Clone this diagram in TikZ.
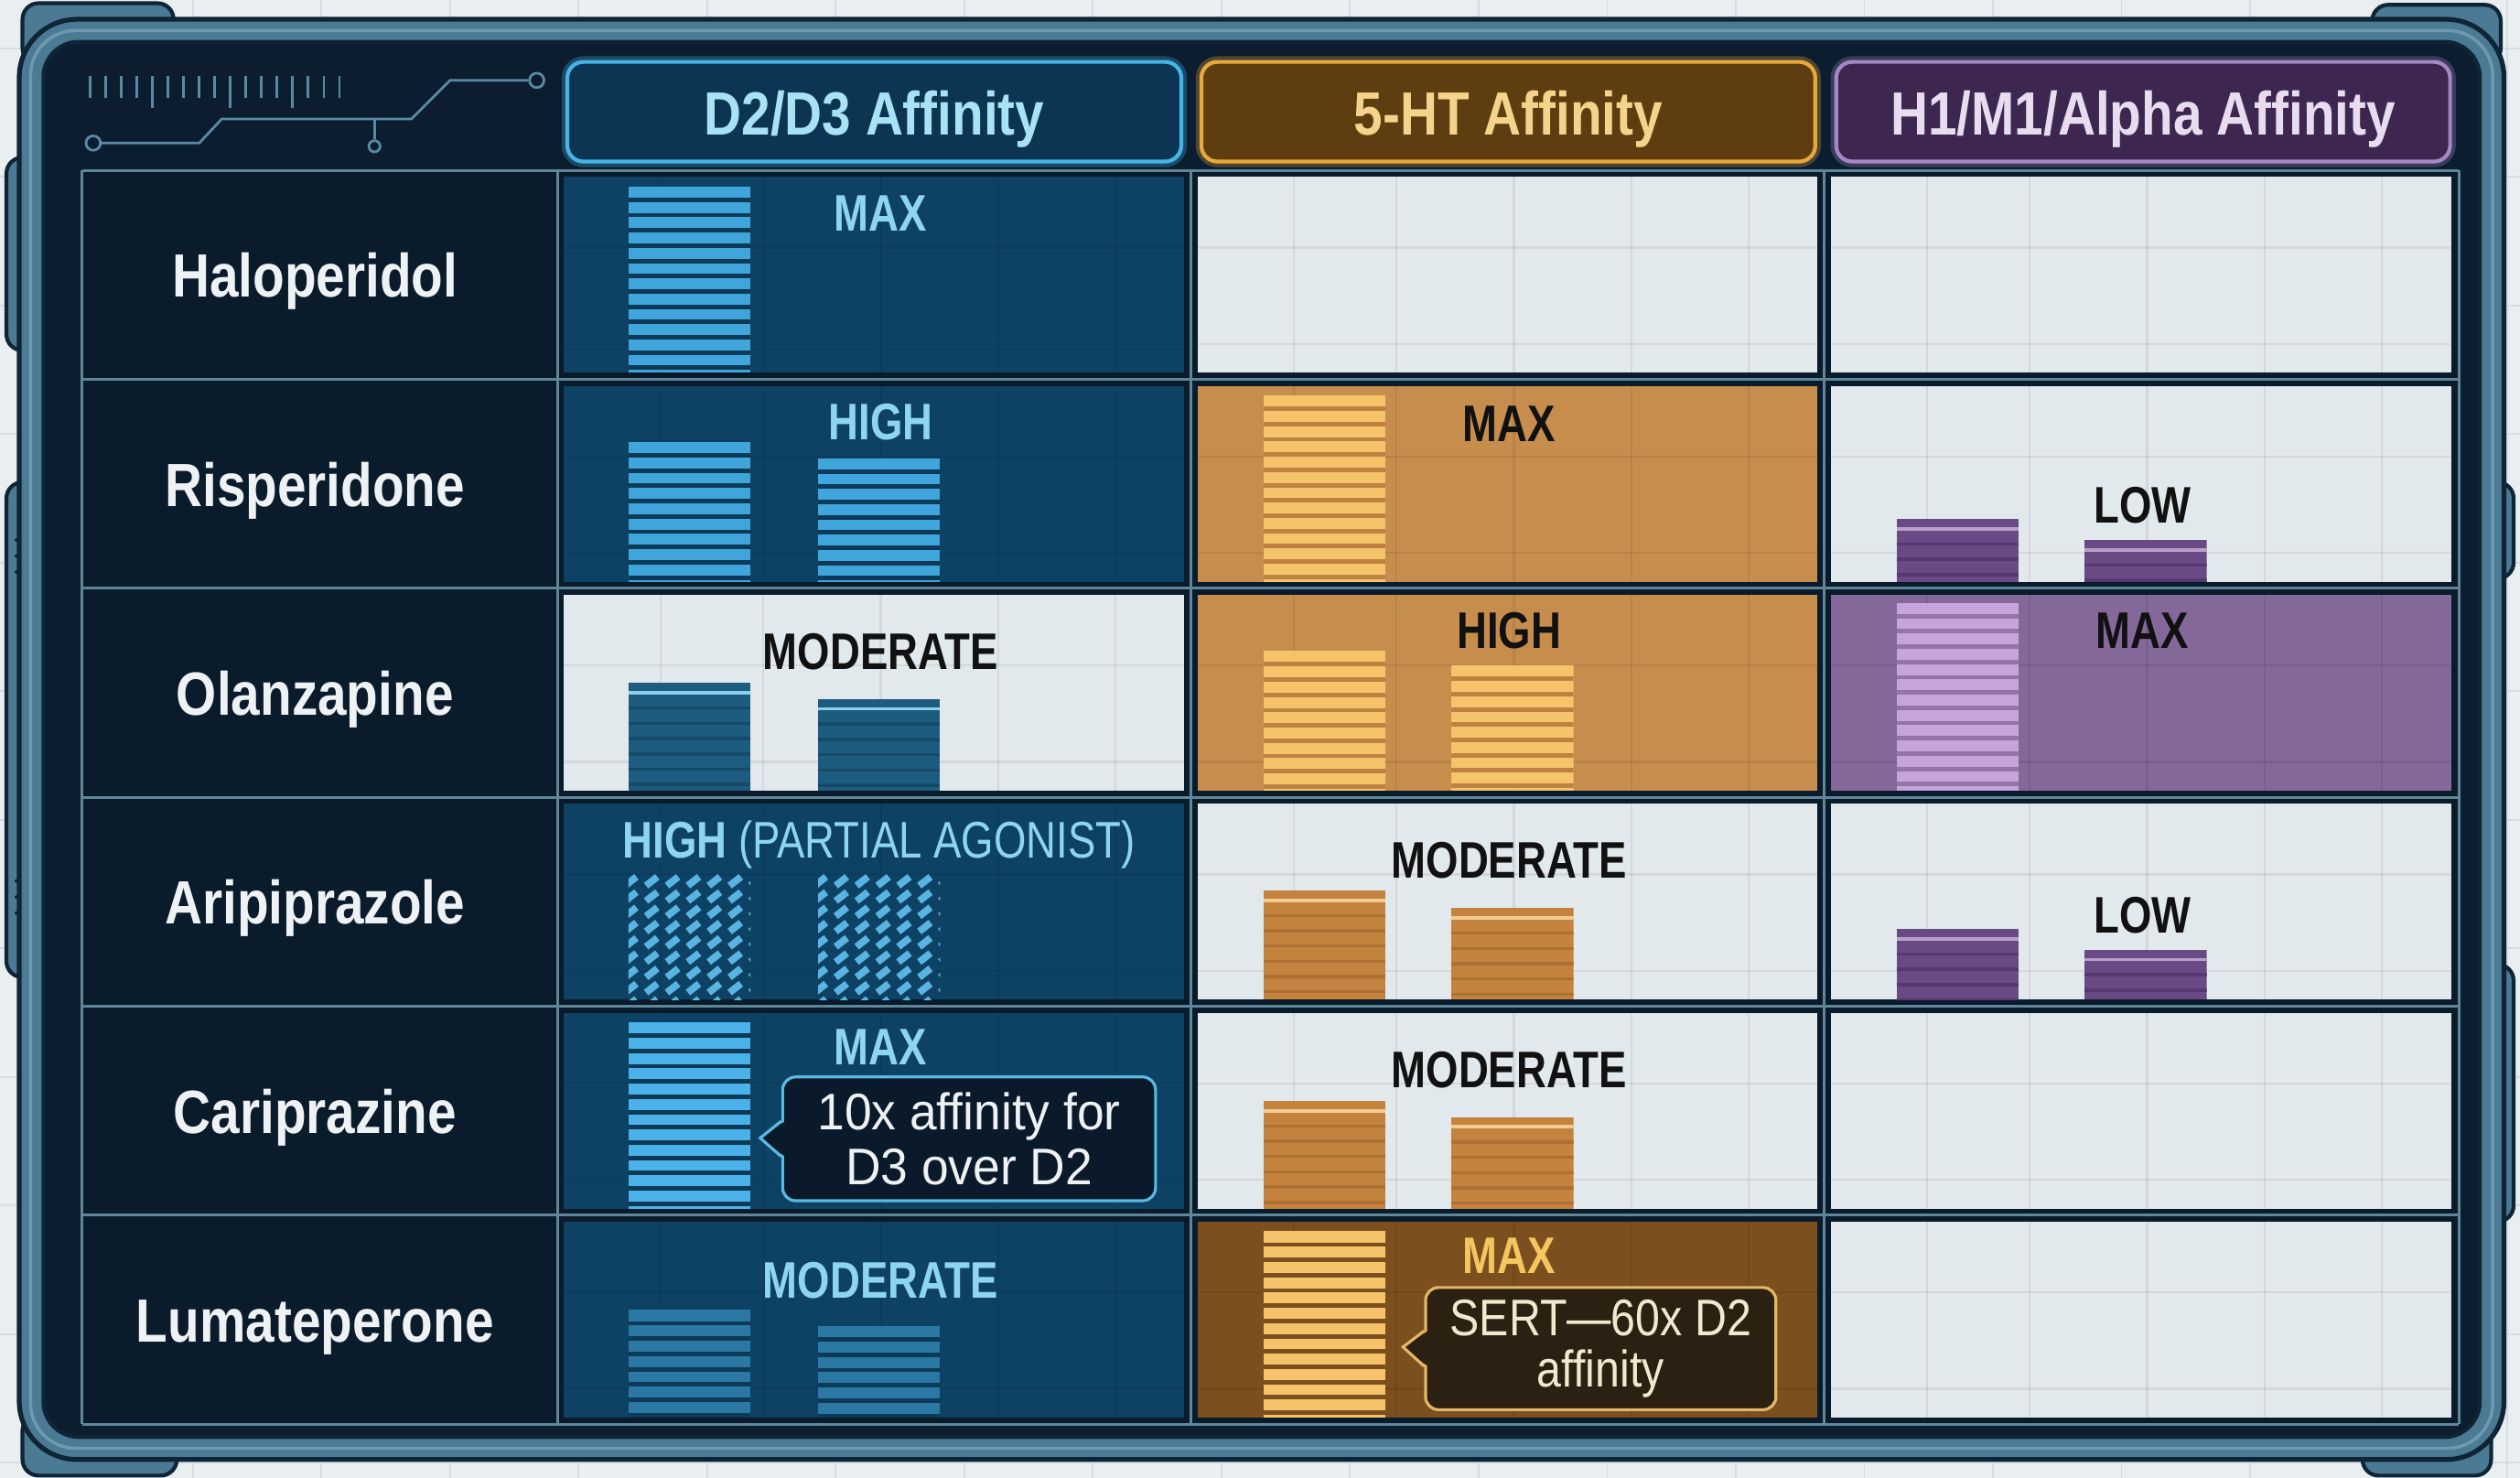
\documentclass[tikz,border=0pt]{standalone}
\usepackage{fontspec}
\setmainfont{Liberation Sans}
\newfontfamily\cnd{Liberation Sans}[FakeStretch=0.85]
\newfontfamily\cndl{Liberation Sans}[FakeStretch=0.81]
\newfontfamily\cndr{Liberation Sans}[FakeStretch=0.95]
\newfontfamily\cnds{Liberation Sans}[FakeStretch=0.86]
\definecolor{bgpage}{HTML}{E9EEF1}
\definecolor{bggrid}{HTML}{D5DDE2}
\definecolor{frameteal}{HTML}{4A7A94}
\definecolor{framelight}{HTML}{6E9AB1}
\definecolor{frameout}{HTML}{0F2536}
\definecolor{panel}{HTML}{0B1D2E}
\definecolor{gridline}{HTML}{5F8699}
\definecolor{namecell}{HTML}{0A1B2B}
\definecolor{namewhite}{HTML}{EEF2F4}
\definecolor{deco}{HTML}{5A8AA3}
\definecolor{dblue}{HTML}{0E4264}
\definecolor{dbar}{HTML}{40A5DB}
\definecolor{dbarbright}{HTML}{4AB2E8}
\definecolor{dbargap}{HTML}{0D3A58}
\definecolor{dbardim}{HTML}{2A78A3}
\definecolor{dlabel}{HTML}{8ED5F1}
\definecolor{dsolid}{HTML}{1D5C7F}
\definecolor{dsolidgap}{HTML}{154B69}
\definecolor{dhi}{HTML}{8CD0EE}
\definecolor{dhatch}{HTML}{5AB4E2}
\definecolor{amber}{HTML}{C78D4D}
\definecolor{amberdark}{HTML}{7C4F1E}
\definecolor{abar}{HTML}{F4C36A}
\definecolor{abargap}{HTML}{BD8242}
\definecolor{aorange}{HTML}{C3823E}
\definecolor{aorangegap}{HTML}{AD7033}
\definecolor{ahi}{HTML}{F3CB94}
\definecolor{alabel}{HTML}{F4C660}
\definecolor{purp}{HTML}{85689A}
\definecolor{pbar}{HTML}{C8A4DD}
\definecolor{pbargap}{HTML}{9574AA}
\definecolor{psolid}{HTML}{6A4A85}
\definecolor{psolidgap}{HTML}{553870}
\definecolor{phi}{HTML}{B9A0CB}
\definecolor{wcell}{HTML}{E2E9ED}
\definecolor{hd}{HTML}{0B3552}
\definecolor{hdb}{HTML}{45B4E6}
\definecolor{hdt}{HTML}{A9E2F4}
\definecolor{ha}{HTML}{5E3D10}
\definecolor{hab}{HTML}{E9A83A}
\definecolor{hat}{HTML}{F5D38A}
\definecolor{hp}{HTML}{3D2751}
\definecolor{hpb}{HTML}{A587C4}
\definecolor{hpt}{HTML}{E8DCEF}
\definecolor{cbfill}{HTML}{0A1A2A}
\definecolor{cbborder}{HTML}{5BB9E2}
\definecolor{cafill}{HTML}{2C2013}
\definecolor{caborder}{HTML}{E2B767}
\definecolor{catext}{HTML}{F3E8CF}
\definecolor{lblack}{HTML}{111111}

% striped bar: x, top, bottom, fill, gap
\newcommand\mybar[5]{%
 \begin{scope}
 \clip (#1,#2) rectangle (#1+76,#3);
 \fill[#4] (#1,#2) rectangle (#1+76,#3);
 \foreach \k in {1,...,14}{\draw[#5,line width=1.4pt] (#1,#2+\k*9.5-1.2) -- (#1+76,#2+\k*9.5-1.2);}
 \end{scope}}
% solid bar with cap highlight: x, top, bottom, fill, gap, highlight
\newcommand\mysolid[6]{%
 \begin{scope}
 \clip (#1,#2) rectangle (#1+76,#3);
 \fill[#4] (#1,#2) rectangle (#1+76,#3);
 \foreach \k in {1,...,12}{\draw[#5,line width=1pt] (#1,#2+6+\k*9.5) -- (#1+76,#2+6+\k*9.5);}
 \draw[#6,line width=1.1pt] (#1,#2+6) -- (#1+76,#2+6);
 \end{scope}}
% hatched bar: x, top, bottom
\newcommand\myhatch[3]{%
 \begin{scope}
 \clip (#1,#2) rectangle (#1+76,#3);
 \foreach \r in {0,...,8}{\foreach \c in {0,...,6}{%
   \draw[dhatch,line width=2.2pt] (#1+\c*13-2,#2+\r*9.5+7) -- (#1+\c*13+5,#2+\r*9.5+1.5);}}
 \end{scope}}
% cell background: col-left, row-top, fill
\newcommand\mycell[3]{%
 \fill[#3] (#1+4,#2+4) rectangle (#1+390,#2+126);
 \begin{scope}
 \clip (#1+4,#2+4) rectangle (#1+390,#2+126);
 \foreach \v in {64,128,201,274,347}{\draw[black,opacity=0.07,line width=0.6pt] (#1+\v,#2) -- (#1+\v,#2+130);}
 \foreach \h in {48,108}{\draw[black,opacity=0.07,line width=0.6pt] (#1,#2+\h) -- (#1+394,#2+\h);}
 \end{scope}}

\begin{document}
\begin{tikzpicture}[x=0.5pt,y=-0.5pt,
  bump/.style={fill=frameteal,draw=frameout,line width=1.2pt,rounded corners=5pt},
  namelbl/.style={font=\cnd\bfseries\fontsize{19}{22}\selectfont,text=namewhite,anchor=base},
  hdr/.style={rounded corners=5pt,line width=1.2pt,minimum width=191pt,minimum height=31pt,inner sep=0pt},
  hdrtxt/.style={font=\cnd\bfseries\fontsize{19}{22}\selectfont,anchor=base},
  lbl/.style={font=\cndl\bfseries\fontsize{16}{19}\selectfont,anchor=base,inner sep=1pt},
  callbox/.style={align=center,rounded corners=4pt,line width=0.9pt,inner sep=0pt},
  decoline/.style={draw=deco,line width=0.8pt},
  dot/.style={circle,draw=deco,line width=0.8pt,fill=panel,minimum size=4.5pt,inner sep=0pt}]
\useasboundingbox (0,0) rectangle (1568,919.5);
% page background
\fill[bgpage] (0,0) rectangle (1568,919.5);
\foreach \gx in {40,120,...,1560}{\draw[bggrid,line width=0.5pt] (\gx,0) -- (\gx,919.5);}
\foreach \gy in {30,110,...,919}{\draw[bggrid,line width=0.5pt] (0,\gy) -- (1568,\gy);}

% frame bumps
\draw[bump] (14,2) rectangle (108,40);
\draw[bump] (1476,3) rectangle (1556,40);
\draw[bump] (4,98) rectangle (30,218);
\draw[bump] (4,300) rectangle (30,608);
\draw[bump] (14,880) rectangle (110,918);
\draw[bump] (1538,300) rectangle (1564,360);
\draw[bump] (1538,600) rectangle (1564,760);
\draw[bump] (1470,880) rectangle (1550,918);
\foreach \sy in {336,346,356,548,558,568}{\fill[frameout] (13,\sy) ellipse [x radius=4, y radius=1.6];}
\fill[green!60!yellow] (13,366) circle [radius=1.5];

% frame
\draw[fill=frameteal,draw=frameout,line width=1.5pt,rounded corners=18pt] (12,12) rectangle (1558,908);
\draw[framelight,line width=1pt,rounded corners=14pt] (19,19) rectangle (1551,901);
\draw[fill=panel,draw=frameout,line width=1.2pt,rounded corners=11pt] (27,26) rectangle (1543,894);

% decorative ruler
\foreach \i in {0,...,16}{\draw[decoline] (56+\i*9.7,47) -- (56+\i*9.7,61);}
\foreach \i in {4,9,13}{\draw[decoline] (56+\i*9.7,61) -- (56+\i*9.7,67);}
% circuit
\node[dot] (ca) at (58,89) {};
\node[dot] (cb) at (334,50) {};
\node[dot,minimum size=3.5pt] (cc) at (233,91) {};
\coordinate (cj) at (233,74);
\draw[decoline] (ca) -- (124,89) -- (138,74) -- (cj) -- (256,74) -- (280,50) -- (cb);
\draw[decoline] (cj) -- (cc);

% headers
\node[hdr,fill=hd,draw=hdb,preaction={draw=hdb,line width=3.5pt,opacity=0.3}] (hD) at (544,69.5) {};
\node[hdrtxt,text=hdt] (tD) at (544,84) {D2/D3 Affinity};
\node[hdr,fill=ha,draw=hab,preaction={draw=hab,line width=3.5pt,opacity=0.3}] (hA) at (938.5,69.5) {};
\node[hdrtxt,text=hat] (tA) at (938.5,84) {5-HT Affinity};
\node[hdr,fill=hp,draw=hpb,preaction={draw=hpb,line width=3.5pt,opacity=0.3}] (hP) at (1333.5,69.5) {};
\node[hdrtxt,text=hpt] (tP) at (1333.5,84) {H1/M1/Alpha Affinity};

% table background
\fill[namecell] (51,106) rectangle (1530,886);
% cells
\mycell{347}{106}{dblue}\mycell{741}{106}{wcell}\mycell{1135}{106}{wcell}
\mycell{347}{236}{dblue}\mycell{741}{236}{amber}\mycell{1135}{236}{wcell}
\mycell{347}{366}{wcell}\mycell{741}{366}{amber}\mycell{1135}{366}{purp}
\mycell{347}{496}{dblue}\mycell{741}{496}{wcell}\mycell{1135}{496}{wcell}
\mycell{347}{626}{dblue}\mycell{741}{626}{wcell}\mycell{1135}{626}{wcell}
\mycell{347}{756}{dblue}\mycell{741}{756}{amberdark}\mycell{1135}{756}{wcell}
% grid lines
\foreach \gx in {51,347,741,1135,1530}{\draw[gridline,line width=0.9pt] (\gx,106) -- (\gx,886);}
\foreach \gy in {106,236,366,496,626,756,886}{\draw[gridline,line width=0.9pt] (51,\gy) -- (1530,\gy);}

% names
\node[namelbl] (n1) at (196,185) {Haloperidol};
\node[namelbl] (n2) at (196,315) {Risperidone};
\node[namelbl] (n3) at (196,445) {Olanzapine};
\node[namelbl] (n4) at (196,575) {Aripiprazole};
\node[namelbl] (n5) at (196,705) {Cariprazine};
\node[namelbl] (n6) at (196,835) {Lumateperone};

% bars row 1
\mybar{391}{116}{232}{dbar}{dbargap}
% row 2
\mybar{391}{275}{362}{dbar}{dbargap}
\mybar{509}{285}{362}{dbar}{dbargap}
\mybar{786}{246}{362}{abar}{abargap}
\mysolid{1180}{323}{362}{psolid}{psolidgap}{phi}
\mysolid{1297}{336}{362}{psolid}{psolidgap}{phi}
% row 3
\mysolid{391}{425}{492}{dsolid}{dsolidgap}{dhi}
\mysolid{509}{435}{492}{dsolid}{dsolidgap}{dhi}
\mybar{786}{405}{492}{abar}{abargap}
\mybar{903}{414}{492}{abar}{abargap}
\mybar{1180}{375}{492}{pbar}{pbargap}
% row 4
\myhatch{391}{544}{622}
\myhatch{509}{544}{622}
\mysolid{786}{554}{622}{aorange}{aorangegap}{ahi}
\mysolid{903}{565}{622}{aorange}{aorangegap}{ahi}
\mysolid{1180}{578}{622}{psolid}{psolidgap}{phi}
\mysolid{1297}{591}{622}{psolid}{psolidgap}{phi}
% row 5
\mybar{391}{636}{752}{dbarbright}{dbargap}
\mysolid{786}{685}{752}{aorange}{aorangegap}{ahi}
\mysolid{903}{695}{752}{aorange}{aorangegap}{ahi}
% row 6
\mybar{391}{815}{882}{dbardim}{dbargap}
\mybar{509}{825}{882}{dbardim}{dbargap}
\mybar{786}{766}{882}{abar}{amberdark}

% labels
\node[lbl,text=dlabel] (l11) at (548,143.5) {MAX};
\node[lbl,text=dlabel] (l21) at (548,273.5) {HIGH};
\node[lbl,text=lblack] (l31) at (548,416.5) {MODERATE};
\node[lbl,text=dlabel] (l41) at (547,533.5) {HIGH {\mdseries (PARTIAL AGONIST)}};
\node[lbl,text=dlabel] (l51) at (548,662.5) {MAX};
\node[lbl,text=dlabel] (l61) at (548,807.5) {MODERATE};
\node[lbl,text=lblack] (l22) at (939,274.5) {MAX};
\node[lbl,text=lblack] (l32) at (939,403.5) {HIGH};
\node[lbl,text=lblack] (l42) at (939,546.5) {MODERATE};
\node[lbl,text=lblack] (l52) at (939,676.5) {MODERATE};
\node[lbl,text=alabel] (l62) at (939,792.5) {MAX};
\node[lbl,text=lblack] (l23) at (1333,325.5) {LOW};
\node[lbl,text=lblack] (l33) at (1333,403.5) {MAX};
\node[lbl,text=lblack] (l43) at (1333,580.5) {LOW};

% callout: cariprazine
\node[callbox,fill=cbfill,draw=cbborder,text=namewhite,minimum width=116pt,minimum height=38.5pt,
      font=\cndr\fontsize{16}{17}\selectfont] (cb1) at (603,708.5) {10x affinity for\\D3 over D2};
\coordinate (cp1) at (473,708);
\fill[cbfill] ([xshift=1.2pt,yshift=5.5pt]cb1.west) -- (cp1) -- ([xshift=1.2pt,yshift=-5.5pt]cb1.west) -- cycle;
\draw[cbborder,line width=0.9pt] ([yshift=5.5pt]cb1.west) -- (cp1) -- ([yshift=-5.5pt]cb1.west);
% callout: lumateperone
\node[callbox,fill=cafill,draw=caborder,text=catext,minimum width=109pt,minimum height=38pt,
      font=\cnds\fontsize{16}{16}\selectfont] (cb2) at (996,839) {SERT—60x D2\\affinity};
\coordinate (cp2) at (873,838);
\fill[cafill] ([xshift=1.2pt,yshift=5.5pt]cb2.west) -- (cp2) -- ([xshift=1.2pt,yshift=-5.5pt]cb2.west) -- cycle;
\draw[caborder,line width=0.9pt] ([yshift=5.5pt]cb2.west) -- (cp2) -- ([yshift=-5.5pt]cb2.west);
\end{tikzpicture}
\end{document}
